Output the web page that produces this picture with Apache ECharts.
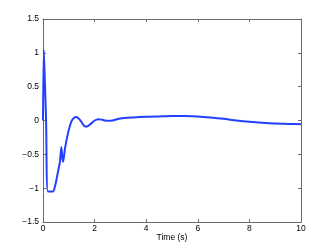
<!DOCTYPE html>
<html><head><meta charset="utf-8">
<script src="https://cdn.jsdelivr.net/npm/echarts@6/dist/echarts.min.js"></script>
<style>html,body{margin:0;padding:0;background:#fff}#c{width:332px;height:250px}</style>
</head><body><div id="c"></div>
<script>
var timeValues = [0, 0.03, 0.07, 0.12, 0.19, 0.39, 0.46, 0.52, 0.6, 0.66, 0.71, 0.75, 0.78, 0.85, 0.95, 1.05, 1.15, 1.3, 1.45, 1.6, 1.7, 1.85, 2.0, 2.15, 2.3, 2.5, 2.7, 3.0, 3.5, 4.0, 4.5, 5.0, 5.5, 6.0, 6.5, 7.0, 7.5, 8.0, 8.5, 9.0, 9.5, 10];
var responseValues = [0, 1.04, 0.6, 0, -1.05, -1.05, -0.98, -0.88, -0.72, -0.6, -0.39, -0.55, -0.61, -0.42, -0.22, -0.07, 0.02, 0.05, 0.0, -0.08, -0.09, -0.05, 0.0, 0.02, 0.01, -0.005, 0.0, 0.03, 0.045, 0.055, 0.06, 0.065, 0.065, 0.06, 0.045, 0.025, 0.0, -0.02, -0.035, -0.045, -0.05, -0.055];
var xTicks = {min: 0, max: 10, interval: 2};
var yTicks = {min: -1.5, max: 1.5, interval: 0.5};
var xLabel = 'Time (s)';

var pts = timeValues.map(function(t, i){ return [t, responseValues[i]]; });
var font = 'Liberation Sans, Arial, Helvetica, sans-serif';
var axCol = '#6a6a6a';
function fmt(v){ return String(v).replace('-', '\u2212'); }
var chart = echarts.init(document.getElementById('c'), null, {renderer: 'canvas'});
chart.setOption({
  animation: false,
  backgroundColor: '#fff',
  grid: {left: 43, right: 31, top: 19, bottom: 28, containLabel: false, outerBoundsMode: 'none'},
  xAxis: [{
    type: 'value', min: xTicks.min, max: xTicks.max, interval: xTicks.interval,
    position: 'bottom',
    name: xLabel, nameLocation: 'middle', nameGap: 11, nameMoveOverlap: false,
    nameTextStyle: {fontFamily: font, fontSize: 8.5, color: '#000'},
    axisLine: {show: true, onZero: false, lineStyle: {color: axCol, width: 1}},
    axisTick: {show: true, inside: true, length: 3, lineStyle: {color: axCol}},
    axisLabel: {fontFamily: font, fontSize: 8.5, color: '#000', margin: 2, formatter: fmt, hideOverlap: false},
    splitLine: {show: false}
  }, {
    type: 'value', min: xTicks.min, max: xTicks.max, interval: xTicks.interval,
    position: 'top',
    axisLine: {show: true, onZero: false, lineStyle: {color: axCol, width: 1}},
    axisTick: {show: true, inside: true, length: 3, lineStyle: {color: axCol}},
    axisLabel: {show: false}, splitLine: {show: false}
  }],
  yAxis: [{
    type: 'value', min: yTicks.min, max: yTicks.max, interval: yTicks.interval,
    position: 'left',
    axisLine: {show: true, onZero: false, lineStyle: {color: axCol, width: 1}},
    axisTick: {show: true, inside: true, length: 3, lineStyle: {color: axCol}},
    axisLabel: {fontFamily: font, fontSize: 8.5, color: '#000', margin: 4, formatter: fmt,
      verticalAlign: 'middle', verticalAlignMinLabel: 'middle', verticalAlignMaxLabel: 'middle', hideOverlap: false},
    splitLine: {show: false}
  }, {
    type: 'value', min: yTicks.min, max: yTicks.max, interval: yTicks.interval,
    position: 'right',
    axisLine: {show: true, onZero: false, lineStyle: {color: axCol, width: 1}},
    axisTick: {show: true, inside: true, length: 3, lineStyle: {color: axCol}},
    axisLabel: {show: false}, splitLine: {show: false}
  }],
  series: [{
    type: 'line', xAxisIndex: 0, yAxisIndex: 0,
    data: pts, showSymbol: false, smooth: 0.25,
    lineStyle: {color: '#2340ff', width: 2},
    clip: true
  }]
});
</script></body></html>
